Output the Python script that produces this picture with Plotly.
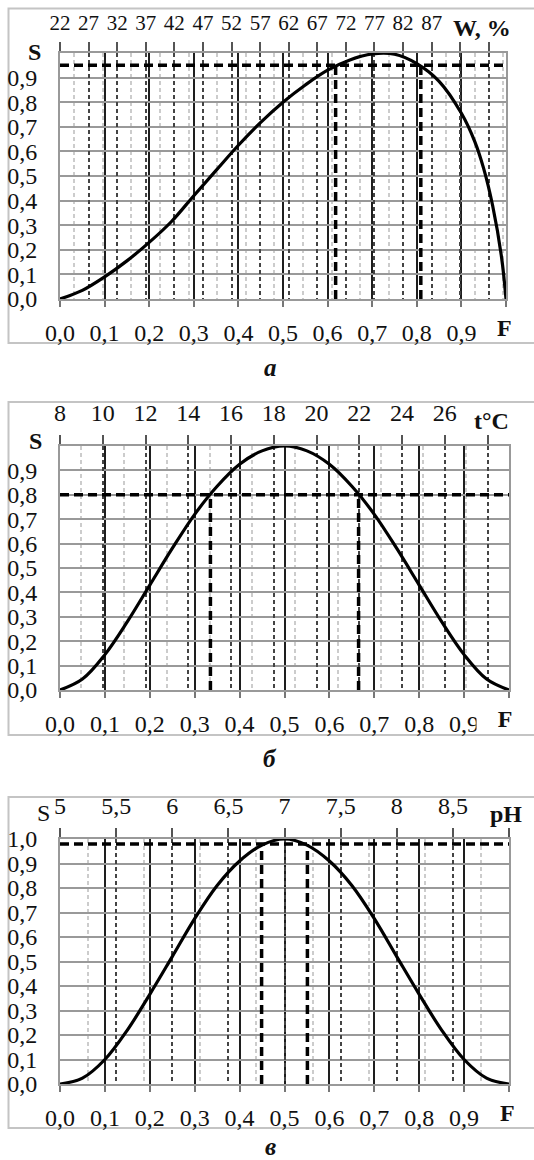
import plotly.graph_objects as go

# ---------------- data ----------------
F_a = [0, .05, .1, .15, .2, .25, .3, .35, .4, .45, .5, .55, .6, .65, .7, .75, .8, .85, .9, .93, .95, .97, .99, 1]
S_a = [0, .035, .09, .155, .23, .315, .42, .523, .625, .718, .80, .87, .93, .972, .996, .995, .957, .885, .755, .64, .53, .38, .17, 0]

F_b = [0, .05, .1, .15, .2, .25, .3, .35, .4, .45, .5, .55, .6, .65, .7, .75, .8, .85, .9, .95, 1]
S_b = [0, .045, .145, .28, .43, .58, .72, .835, .925, .98, 1, .98, .925, .835, .72, .58, .43, .28, .145, .045, 0]

F_c = [0, .05, .1, .15, .2, .25, .3, .35, .4, .45, .5, .55, .6, .65, .7, .75, .8, .85, .9, .95, 1]
S_c = [0, .024, .10, .22, .366, .52, .675, .81, .91, .975, 1, .975, .91, .81, .675, .52, .366, .22, .10, .024, 0]

# threshold lines (S level, F crossings)
thr_a = 0.95; cross_a = [0.618, 0.809]
thr_b = 0.80; cross_b = [0.335, 0.665]
thr_c = 0.98; cross_c = [0.449, 0.551]

# bottom F ticks
F_ticks = [round(i * 0.1, 1) for i in range(11)]
F_text = ["0,0", "0,1", "0,2", "0,3", "0,4", "0,5", "0,6", "0,7", "0,8", "0,9", ""]
S_ticks = [round(i * 0.1, 1) for i in range(11)]
S_text_ab = ["0,0", "0,1", "0,2", "0,3", "0,4", "0,5", "0,6", "0,7", "0,8", "0,9", ""]
S_text_c = ["0,0", "0,1", "0,2", "0,3", "0,4", "0,5", "0,6", "0,7", "0,8", "0,9", "1,0"]

# top (secondary) scales
W_range = [22, 100]
W_ticks = [22, 27, 32, 37, 42, 47, 52, 57, 62, 67, 72, 77, 82, 87, 92, 97]
W_text = ["22", "27", "32", "37", "42", "47", "52", "57", "62", "67", "72", "77", "82", "87", "", ""]
t_range = [8, 29]
t_ticks = [8, 10, 12, 14, 16, 18, 20, 22, 24, 26, 28]
t_text = ["8", "10", "12", "14", "16", "18", "20", "22", "24", "26", ""]
pH_range = [5, 9]
pH_ticks = [5, 5.5, 6, 6.5, 7, 7.5, 8, 8.5, 9]
pH_text = ["5", "5,5", "6", "6,5", "7", "7,5", "8", "8,5", ""]

W_px, H_px = 534, 1160
FONT = "Liberation Serif"
FS = 24

def px_x(v):
    return v / W_px

def px_y(v):
    return 1 - v / H_px

panels = [
    dict(F=F_a, S=S_a, thr=thr_a, cross=cross_a, x=(60, 506), y=(53, 299), box=(8.5, 343),
         top=(W_range, W_ticks, W_text, 2.5), topfs=21, ylab=S_text_ab, unit="<b>W, %</b>", unit_x=482,
         s_lab="<b>S</b>", s_xy=(34, 52), letter="<b><i>а</i></b>", letter_y=367, fbg=False),
    dict(F=F_b, S=S_b, thr=thr_b, cross=cross_b, x=(60, 509), y=(446, 690), box=(402, 735),
         top=(t_range, t_ticks, t_text, 1), topfs=24, ylab=S_text_ab, unit="<b>t°C</b>", unit_x=491,
         s_lab="<b>S</b>", s_xy=(35, 441), letter="<b><i>б</i></b>", letter_y=758, fbg=True),
    dict(F=F_c, S=S_c, thr=thr_c, cross=cross_c, x=(60, 509), y=(839, 1084), box=(797, 1128),
         top=(pH_range, pH_ticks, pH_text, 0.25), topfs=24, ylab=S_text_c, unit="<b>pH</b>", unit_x=506,
         s_lab="S", s_xy=(43, 813), letter="<b><i>в</i></b>", letter_y=1146, fbg=False),
]

fig = go.Figure()
layout = dict(width=W_px, height=H_px, margin=dict(l=0, r=0, t=0, b=0, autoexpand=False),
              template="none",
              paper_bgcolor="white", plot_bgcolor="white", showlegend=False,
              font=dict(family=FONT, size=FS, color="#111"))
shapes = []
annotations = []

for i, p in enumerate(panels):
    xb = f"x{2*i+1}" if i > 0 else "x"
    xt = f"x{2*i+2}"
    yy = f"y{i+1}" if i > 0 else "y"
    xb_key = "xaxis" if i == 0 else f"xaxis{2*i+1}"
    xt_key = f"xaxis{2*i+2}"
    y_key = "yaxis" if i == 0 else f"yaxis{i+1}"
    dom_x = [px_x(p["x"][0]), px_x(p["x"][1])]
    dom_y = [px_y(p["y"][1]), px_y(p["y"][0])]
    rng, tv, tt, minor_d = p["top"]

    layout[xb_key] = dict(domain=dom_x, anchor=yy, range=[0, 1], tickvals=F_ticks, ticktext=F_text,
                          ticks="outside", ticklen=6, tickwidth=1.5, tickcolor="#777", automargin=False,
                          ticklabelstandoff=5, showgrid=True, gridcolor="#1e1e1e", gridwidth=2,
                          showline=True, linecolor="#999", linewidth=2, zeroline=False,
                          tickfont=dict(family=FONT, size=FS, color="#111"), fixedrange=True)
    layout[xt_key] = dict(overlaying=xb, anchor=yy, side="top", range=rng, tickvals=tv, ticktext=tt,
                          ticks="outside", ticklen=9, tickwidth=1.5, tickcolor="#555", automargin=False,
                          ticklabelstandoff=4, showgrid=True, gridcolor="#444", gridwidth=1.5,
                          griddash="4px,3px", showline=True, linecolor="#999", linewidth=2,
                          zeroline=False,
                          minor=dict(dtick=minor_d, tick0=rng[0], showgrid=True, gridcolor="#cccccc",
                                     gridwidth=1.5, griddash="4px,3px", ticks=""),
                          tickfont=dict(family=FONT, size=p["topfs"], color="#111"), fixedrange=True)
    layout[y_key] = dict(domain=dom_y, anchor=xb, range=[0, 1], tickvals=S_ticks, ticktext=p["ylab"],
                         ticks="", ticklabelstandoff=16, showgrid=True, gridcolor="#999999", gridwidth=2,
                         showline=True, linecolor="#999", linewidth=2, mirror=True, zeroline=False,
                         automargin=False,
                         tickfont=dict(family=FONT, size=FS, color="#111"), fixedrange=True)

    # dummy trace to activate top axis
    fig.add_trace(go.Scatter(x=[], y=[], xaxis=xt, yaxis=yy, hoverinfo="skip"))
    # threshold lines
    fig.add_trace(go.Scatter(x=[0, 1], y=[p["thr"], p["thr"]], mode="lines", xaxis=xb, yaxis=yy,
                             line=dict(color="#000", width=3.5, dash="9px,5px"), hoverinfo="skip"))
    for c in p["cross"]:
        fig.add_trace(go.Scatter(x=[c, c], y=[0, p["thr"]], mode="lines", xaxis=xb, yaxis=yy,
                                 line=dict(color="#000", width=3.5, dash="9px,5px"), hoverinfo="skip"))
    # curve
    fig.add_trace(go.Scatter(x=p["F"], y=p["S"], mode="lines", xaxis=xb, yaxis=yy,
                             line=dict(color="#000", width=3.2, shape="spline", smoothing=1.0)))

    # panel box
    shapes.append(dict(type="rect", xref="paper", yref="paper", x0=px_x(8.5),
                       x1=1.05, y0=px_y(p["box"][1]), y1=px_y(p["box"][0]),
                       line=dict(color="#c4c4c4", width=2), layer="below"))
    # labels
    top_label_y = p["y"][0] - 25
    annotations.append(dict(text=p["unit"], xref="paper", yref="paper", x=px_x(p["unit_x"]),
                            y=px_y(top_label_y), xanchor="center", yanchor="middle", showarrow=False,
                            font=dict(family=FONT, size=FS, color="#111")))
    annotations.append(dict(text=p["s_lab"], xref="paper", yref="paper", x=px_x(p["s_xy"][0]),
                            y=px_y(p["s_xy"][1]), xanchor="center", yanchor="middle", showarrow=False,
                            font=dict(family=FONT, size=FS, color="#111")))
    fann = dict(text="<b>F</b>", xref="paper", yref="paper", x=px_x(p["x"][1] - 2),
                y=px_y(p["y"][1] + 29), xanchor="center", yanchor="middle", showarrow=False,
                font=dict(family=FONT, size=FS, color="#111"))
    if p["fbg"]:
        fann.update(bgcolor="white", width=56, height=24, align="center", borderpad=0,
                    x=px_x(p["x"][1] - 4))
    annotations.append(fann)
    annotations.append(dict(text=p["letter"], xref="paper", yref="paper", x=px_x(270),
                            y=px_y(p["letter_y"]), xanchor="center", yanchor="middle", showarrow=False,
                            font=dict(family=FONT, size=FS + 1, color="#111")))

layout["shapes"] = shapes
layout["annotations"] = annotations
fig.update_layout(**layout)
fig.write_html("out.html")
